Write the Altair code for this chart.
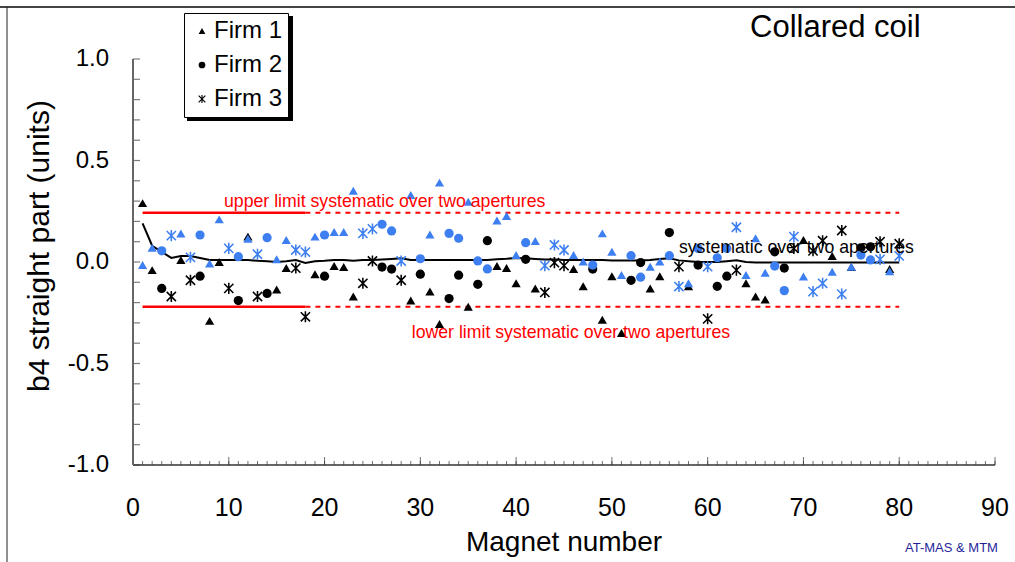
import altair as alt
import pandas as pd

# ---------------- data ----------------
magnet_numbers = list(range(1, 81))
firm_index = [1, 1, 2, 3, 1, 3, 2, 1, 1, 3,
              2, 1, 3, 2, 1, 1, 3, 3, 1, 2,
              1, 1, 1, 3, 3, 2, 2, 3, 1, 2,
              1, 1, 2, 2, 1, 2, 2, 1, 1, 1,
              2, 1, 3, 3, 3, 1, 1, 2, 1, 1,
              1, 2, 2, 1, 1, 2, 3, 1, 2, 3,
              2, 2, 3, 1, 1, 1, 2, 2, 3, 1,
              3, 3, 1, 3, 1, 2, 2, 3, 1, 3]
firm_names = ["Firm 1", "Firm 2", "Firm 3"]

# aperture 1 (black markers)
aperture1 = [0.29, -0.04, -0.13, -0.17, 0.01, -0.09, -0.07, -0.29, 0.0, -0.13,
             -0.19, 0.125, -0.17, -0.155, -0.135, -0.03, -0.03, -0.27, -0.06, -0.07,
             -0.02, -0.025, -0.17, -0.105, 0.005, -0.025, -0.035, -0.09, -0.19, -0.06,
             -0.145, -0.305, -0.18, -0.065, -0.22, -0.11, 0.105, -0.02, -0.03, -0.105,
             0.013, -0.13, -0.15, -0.003, -0.018, -0.035, -0.12, -0.035, -0.285, -0.07,
             -0.35, -0.09, -0.003, -0.13, -0.07, 0.145, -0.023, -0.12, -0.015, -0.28,
             -0.12, -0.07, -0.04, -0.105, -0.17, -0.185, 0.05, -0.03, 0.067, 0.108,
             0.055, 0.105, 0.03, 0.155, -0.025, 0.07, 0.075, 0.1, -0.035, 0.09]
# aperture 2 (blue markers)
aperture2 = [-0.015, 0.07, 0.055, 0.13, 0.14, 0.023, 0.133, -0.007, 0.21, 0.067,
             0.026, 0.115, 0.038, 0.12, 0.013, 0.108, 0.059, 0.049, 0.125, 0.133,
             0.148, 0.148, 0.351, 0.141, 0.163, 0.186, 0.153, 0.005, 0.33, 0.016,
             0.136, 0.391, 0.141, 0.117, 0.297, 0.005, -0.034, 0.204, 0.227, 0.034,
             0.095, 0.103, -0.018, 0.084, 0.059, 0.034, 0.002, -0.015, 0.141, 0.051,
             -0.064, 0.031, -0.075, -0.023, 0.002, 0.031, -0.121, -0.105, 0.067, -0.023,
             0.021, 0.067, 0.171, -0.064, 0.117, -0.053, -0.02, -0.141, 0.125, -0.072,
             -0.146, -0.105, -0.048, -0.158, -0.023, 0.034, 0.01, 0.013, -0.045, 0.03]
# systematic (black line)
systematic = [0.19, 0.08, 0.05, 0.02, 0.03, 0.03, 0.02, 0.01, 0.01, 0.01,
              0.01, 0.01, 0.006, 0.004, 0.0, 0.004, 0.01, -0.005, 0.004, 0.006,
              0.01, 0.01, 0.006, 0.01, 0.01, 0.012, 0.015, 0.018, 0.01, 0.01,
              0.01, 0.01, 0.01, 0.01, 0.01, 0.01, 0.01, 0.014, 0.016, 0.02,
              0.018, 0.015, 0.012, 0.012, 0.01, 0.01, 0.01, 0.01, 0.01, 0.008,
              0.008, 0.008, 0.008, 0.01, 0.015, 0.018, 0.008, 0.004, 0.0, 0.0,
              0.0, 0.004, 0.008, 0.0, -0.002, -0.002, -0.002, -0.002, -0.002, -0.002,
              -0.002, -0.002, -0.002, -0.002, -0.002, -0.002, -0.002, -0.002, -0.002, -0.002]
upper_limit = 0.243
lower_limit = -0.22
solid_span = [1, 18]
dashed_span = [18, 80]
x_ticks_major = [0, 10, 20, 30, 40, 50, 60, 70, 80, 90]
x_label_texts = ["0", "10", "20", "30", "40", "50", "60", "70", "80", "90"]
x_ticks_minor = list(range(0, 91))
y_ticks = [-1.0, -0.9, -0.8, -0.7, -0.6, -0.5, -0.4, -0.3, -0.2, -0.1, 0.0,
           0.1, 0.2, 0.3, 0.4, 0.5, 0.6, 0.7, 0.8, 0.9, 1.0]
y_label_values = [1.0, 0.5, 0.0, -0.5, -1.0]
y_label_texts = ["1.0", "0.5", "0.0", "-0.5", "-1.0"]

# ---------------- tables ----------------
firms = [firm_names[i - 1] for i in firm_index]
pts1 = pd.DataFrame({"magnet": magnet_numbers, "firm": firms, "b4": aperture1})
pts2 = pd.DataFrame({"magnet": magnet_numbers, "firm": firms, "b4": aperture2})
sys_df = pd.DataFrame({"magnet": magnet_numbers, "b4": systematic})
lim_solid = pd.DataFrame({"x0": [solid_span[0]] * 2, "x1": [solid_span[1]] * 2,
                          "y": [upper_limit, lower_limit]})
lim_dash = pd.DataFrame({"x0": [dashed_span[0]] * 2, "x1": [dashed_span[1]] * 2,
                         "y": [upper_limit, lower_limit]})
xmaj_df = pd.DataFrame({"v": x_ticks_major, "t": x_label_texts})
xmin_df = pd.DataFrame({"v": x_ticks_minor})
ytk_df = pd.DataFrame({"v": y_ticks})
ylab_df = pd.DataFrame({"v": y_label_values, "t": y_label_texts})
one = pd.DataFrame({"a": [0]})

W, H = 862, 406
BLUE = "#3d7ff0"
FONT = "Liberation Sans"
# filled asterisk (two diagonals + vertical bar)
STAR = ("M-1.12,-0.88L0.88,1.12L1.12,0.88L-0.88,-1.12Z"
        "M-0.88,1.12L1.12,-0.88L0.88,-1.12L-1.12,0.88Z"
        "M-0.17,-1.2L-0.17,1.2L0.17,1.2L0.17,-1.2Z")

xs = alt.Scale(domain=[0, 90], nice=False, zero=False)
ys = alt.Scale(domain=[-1, 1], nice=False, zero=False)
shape_scale = alt.Scale(domain=firm_names, range=["triangle-up", "circle", STAR])

# frame (decoration)
frame_top = alt.Chart(one).mark_rule(color="#444", strokeWidth=2).encode(
    x=alt.value(-133), x2=alt.value(W + 20), y=alt.value(-52))
frame_left = alt.Chart(one).mark_rule(color="#222", strokeWidth=1).encode(
    x=alt.value(-126), y=alt.value(-52), y2=alt.value(H + 97))

# axis lines
x_line = alt.Chart(one).mark_rule(color="#333", strokeWidth=1.5).encode(
    x=alt.datum(0, scale=xs, axis=None), x2=alt.datum(90),
    y=alt.datum(-1, scale=ys, axis=None))
y_line = alt.Chart(one).mark_rule(color="#666", strokeWidth=2).encode(
    x=alt.datum(0, scale=xs, axis=None),
    y=alt.datum(-1, scale=ys, axis=None), y2=alt.datum(1))

# inward ticks and tick labels
x_minor = alt.Chart(xmin_df).mark_tick(orient="vertical", size=4, thickness=1,
                                       color="#333", yOffset=-2).encode(
    x=alt.X("v:Q", scale=xs, axis=None), y=alt.datum(-1, scale=ys, axis=None))
x_major = alt.Chart(xmaj_df).mark_tick(orient="vertical", size=8, thickness=1,
                                       color="#333", yOffset=-4).encode(
    x=alt.X("v:Q", scale=xs, axis=None), y=alt.datum(-1, scale=ys, axis=None))
x_lab = alt.Chart(xmaj_df).mark_text(align="center", baseline="top", dy=31,
                                     fontSize=25, font=FONT, color="black").encode(
    x=alt.X("v:Q", scale=xs, axis=None), y=alt.datum(-1, scale=ys, axis=None),
    text="t:N")
y_tk = alt.Chart(ytk_df).mark_tick(orient="horizontal", size=7, thickness=1.2,
                                   color="#444", xOffset=3.5).encode(
    y=alt.Y("v:Q", scale=ys, axis=None), x=alt.datum(0, scale=xs, axis=None))
y_lab = alt.Chart(ylab_df).mark_text(align="right", baseline="middle", dx=-24,
                                     fontSize=24, font=FONT, color="black").encode(
    y=alt.Y("v:Q", scale=ys, axis=None), x=alt.datum(0, scale=xs, axis=None),
    text="t:N")

# limits
solid_lines = alt.Chart(lim_solid).mark_rule(color="#ff0000", strokeWidth=2.5).encode(
    x=alt.X("x0:Q", scale=xs, axis=None), x2="x1:Q",
    y=alt.Y("y:Q", scale=ys, axis=None))
dash_lines = alt.Chart(lim_dash).mark_rule(color="#ff0000", strokeWidth=2,
                                           strokeDash=[5, 5]).encode(
    x=alt.X("x0:Q", scale=xs, axis=None), x2="x1:Q",
    y=alt.Y("y:Q", scale=ys, axis=None))

sys_line = alt.Chart(sys_df).mark_line(color="black", strokeWidth=2).encode(
    x=alt.X("magnet:Q", scale=xs, axis=None),
    y=alt.Y("b4:Q", scale=ys, axis=None))

black_pts = alt.Chart(pts1).mark_point(filled=True, color="black", opacity=1,
                                       size=85).encode(
    x=alt.X("magnet:Q", scale=xs, axis=None),
    y=alt.Y("b4:Q", scale=ys, axis=None),
    shape=alt.Shape("firm:N", scale=shape_scale,
                    legend=alt.Legend(orient="none", legendX=51, legendY=-46, title=None,
                                      labelFontSize=24, labelFont=FONT, labelColor="black",
                                      symbolSize=45, symbolOffset=0, labelOffset=0,
                                      padding=6, rowPadding=10, strokeColor="black",
                                      fillColor="white")))

blue_pts = alt.Chart(pts2).mark_point(filled=True, color=BLUE, opacity=1,
                                      size=85).encode(
    x=alt.X("magnet:Q", scale=xs, axis=None),
    y=alt.Y("b4:Q", scale=ys, axis=None),
    shape=alt.Shape("firm:N", scale=shape_scale, legend=None))

def dtext(txt, x, y, color, size):
    return alt.Chart(one).mark_text(text=txt, align="left", baseline="middle",
                                    color=color, fontSize=size, font=FONT).encode(
        x=alt.datum(x, scale=xs, axis=None), y=alt.datum(y, scale=ys, axis=None))

upper_txt = dtext("upper limit systematic over two apertures", 9.5, 0.296, "#ff0000", 17.7)
lower_txt = dtext("lower limit systematic over two apertures", 29.1, -0.35, "#ff0000", 17.7)
sys_txt = dtext("systematic over two apertures", 57.0, 0.069, "black", 17.7)

title_txt = alt.Chart(one).mark_text(text="Collared coil", align="left", baseline="middle",
                                     fontSize=31, font=FONT, color="black").encode(
    x=alt.value(617), y=alt.value(-31))
credit_txt = alt.Chart(one).mark_text(text="AT-MAS & MTM", align="left", baseline="middle",
                                      fontSize=13, font=FONT, color="#1f1f9a").encode(
    x=alt.value(772), y=alt.value(489))
xtitle = alt.Chart(one).mark_text(text="Magnet number", align="center", baseline="alphabetic",
                                  fontSize=28, font=FONT, color="black").encode(
    x=alt.value(W / 2), y=alt.value(492))
ytitle = alt.Chart(one).mark_text(text="b4 straight part (units)", align="center",
                                  baseline="middle", angle=270, fontSize=30, font=FONT,
                                  color="black").encode(
    x=alt.value(-93), y=alt.value(187))

shadow = alt.Chart(one).mark_rect(color="black").encode(
    x=alt.value(54), x2=alt.value(160), y=alt.value(-43), y2=alt.value(62))

chart = alt.layer(
    frame_top, frame_left, shadow, solid_lines, dash_lines, sys_line,
    black_pts, blue_pts, x_minor, x_major, y_tk, x_line, y_line, x_lab, y_lab,
    upper_txt, lower_txt, sys_txt, title_txt, credit_txt, xtitle, ytitle
).properties(
    width=W, height=H,
    autosize=alt.AutoSizeParams(type="none"),
    padding={"left": 133, "top": 59, "right": 20, "bottom": 97},
    background="white"
).configure(font=FONT).configure_view(strokeWidth=0, stroke="transparent")

chart.save("out.html", embed_options={"renderer": "svg", "actions": False})
